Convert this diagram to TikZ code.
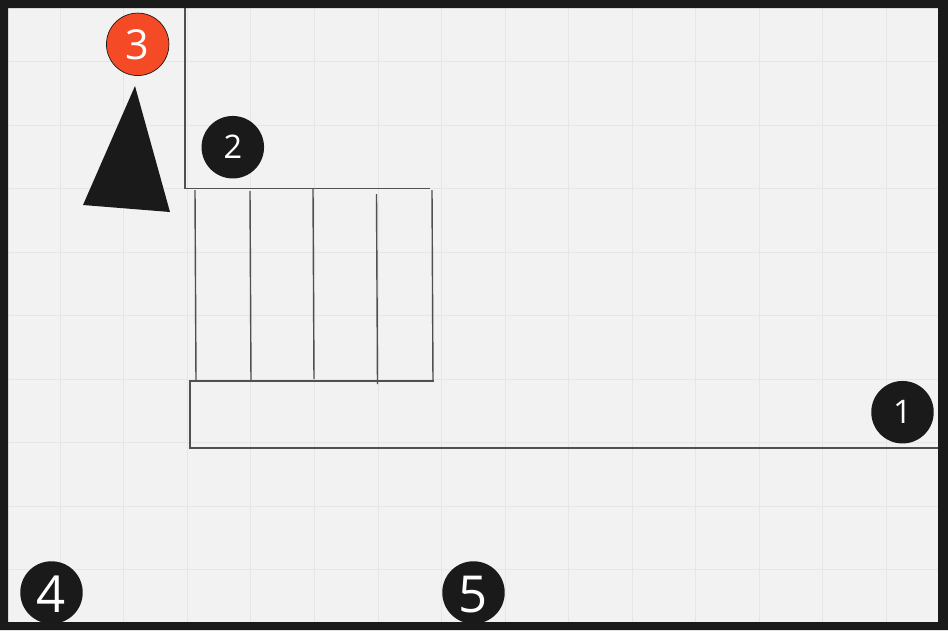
\documentclass[tikz,border=0pt]{standalone}
\usepackage{fontspec}
\setmainfont{Open Sans}
\definecolor{boardbg}{HTML}{F2F2F2}
\definecolor{gridline}{HTML}{E6E6E6}
\definecolor{inkblack}{HTML}{1A1A1A}
\definecolor{wireline}{HTML}{505050}
\definecolor{badgered}{HTML}{F44A25}
\tikzset{%
  badge/.style={
    circle,
    fill=inkblack,
    text=white,
    inner sep=0pt,
    minimum size=1.25cm,
    align=center
  },
  badge red/.style={
    badge,
    fill=badgered,
    draw=inkblack,
    line width=0.4pt
  },
  wire/.style={
    draw=wireline,
    line width=0.8pt
  },
  gridrule/.style={
    draw=gridline,
    line width=0.55pt
  },
}

\begin{document}
\begin{tikzpicture}[x=0.02cm,y=-0.02cm]
\useasboundingbox (0,0) rectangle (948,630);
\fill[boardbg] (0,0) rectangle (948,630);
% grid
\foreach \gx in {60,123.5,187,250.5,314,378,441,505,568,632,695,759,822,886}
  \draw[gridrule] (\gx,8) -- (\gx,622);
\foreach \gy in {61,125,188,252,315,379,442,506,569}
  \draw[gridrule] (8,\gy) -- (938,\gy);
% upper wall and lower wall
\draw[wire] (185,8) -- (185,188.5) -- (430,188.5);
\draw[wire] (433.5,381) -- (190,381) -- (190,448) -- (938,448);
% stairs
\draw[wire] (195,190) -- (196,381);
\draw[wire] (250,191) -- (251,381);
\draw[wire] (313,189) -- (314,379);
\draw[wire] (376.5,194) -- (377.5,384);
\draw[wire] (432,190) -- (433,381);
% arrow shape
\fill[inkblack] (135,86) -- (83,205) -- (170,212) -- cycle;
% badges
\node[badge] (door) at (902.5,412.2) {\fontsize{18.5}{18.5}\selectfont 1};
\node[badge] (stairs) at (232.8,147.2) {\fontsize{18.5}{18.5}\selectfont 2};
\node[badge red,text height=18pt] (north) at (137.7,44.3) {\fontsize{23.5}{23.5}\selectfont 3};
\node[badge,text height=22.5pt] (left) at (51.5,592.5) {\fontsize{29}{29}\selectfont 4};
\node[badge,text height=22.5pt] (mid) at (473.5,592.5) {\fontsize{29}{29}\selectfont 5};
% frame
\fill[inkblack,even odd rule] (0,0) rectangle (948,630) (8,8) rectangle (938,622);
\end{tikzpicture}
\end{document}
